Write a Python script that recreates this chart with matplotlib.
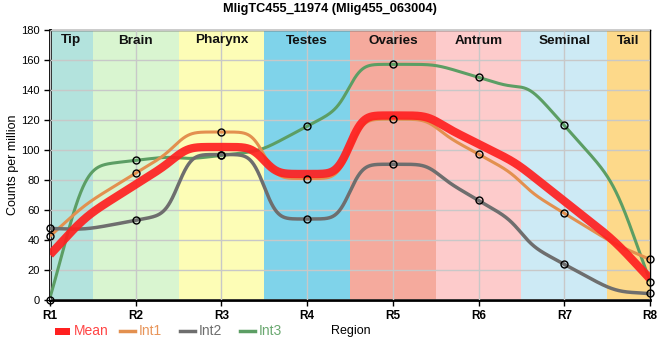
import numpy as np
import matplotlib
matplotlib.use("Agg")
import matplotlib.pyplot as plt
from matplotlib.lines import Line2D
from matplotlib.patches import Rectangle

plt.rcParams['font.family'] = ['Liberation Sans', 'DejaVu Sans']

title = "MligTC455_11974 (Mlig455_063004)"
x_labels = ["R1", "R2", "R3", "R4", "R5", "R6", "R7", "R8"]
regions = ["Tip", "Brain", "Pharynx", "Testes", "Ovaries", "Antrum", "Seminal", "Tail"]
region_bounds = [1.0, 1.5, 2.5, 3.5, 4.5, 5.5, 6.5, 7.5, 8.0]
region_colors = ["#b3e3dd", "#d9f5d0", "#fdfdb6", "#7fd3ea", "#f5aa9d", "#fdcbcb", "#cdeaf5", "#fdd98a"]

mean = [30, 77, 102, 84, 123, 104, 66, 14]
int1 = [42.4, 84.5, 112, 81, 120.5, 97.2, 57.8, 27.1]
int2 = [47.8, 53.1, 97, 54, 90.5, 66.4, 23.8, 4.4]
int3 = [0, 93.1, 96.4, 115.8, 157.1, 148.4, 116.4, 11.8]

series_names = ["Mean", "Int1", "Int2", "Int3"]
series_colors = ["#ff2020", "#e3904f", "#6e6e6e", "#5c9e64"]
text_colors = ["#ff4545", "#e8955a", "#6e6e6e", "#6aa870"]


def tangents(y):
    y = np.asarray(y, float)
    s = np.diff(y)
    t = np.zeros(len(y))
    sg = lambda v: -1.0 if v < 0 else 1.0
    for i in range(1, len(y) - 1):
        p = (s[i - 1] + s[i]) / 2
        t[i] = (sg(s[i - 1]) + sg(s[i])) * min(abs(s[i - 1]), abs(s[i]), 0.5 * abs(p))
    t[0] = 2 * s[0] - t[1]
    t[-1] = 2 * s[-1] - t[-2]
    return t


def hermite(x, x0, x1, y0, y1, m0, m1):
    h = x1 - x0
    u = (x - x0) / h
    return ((2 * u**3 - 3 * u**2 + 1) * y0 + (u**3 - 2 * u**2 + u) * h * m0
            + (-2 * u**3 + 3 * u**2) * y1 + (u**3 - u**2) * h * m1)


def region_curve(y, sigma=0.12):
    """Each region follows a local linear trend through its sample; the
    region pieces are blended across the region borders."""
    y = np.asarray(y, float)
    n = len(y)
    t = tangents(y)
    dx = 0.002
    xg = np.arange(-0.5, 9.5 + dx / 2, dx)
    idx = np.clip(np.floor(xg - 0.5).astype(int), 0, n - 1)
    L = y[idx] + t[idx] * (xg - (idx + 1))
    a = (xg >= 1) & (xg < 1.5)
    L[a] = hermite(xg[a], 1, 1.5, y[0], y[1] - 0.5 * t[1], t[0], t[1])
    b = (xg >= n - 0.5) & (xg <= n)
    L[b] = hermite(xg[b], n - 0.5, n, y[-2] + 0.5 * t[-2], y[-1], t[-2], t[-1])
    kx = np.arange(-4 * sigma, 4 * sigma + dx / 2, dx)
    ker = np.exp(-0.5 * (kx / sigma) ** 2)
    ker /= ker.sum()
    sm = np.convolve(L, ker, mode='same')
    m = (xg >= 1 - 1e-9) & (xg <= n + 1e-9)
    return xg[m], sm[m]


fig = plt.figure(figsize=(6.6, 3.6), dpi=100)
ax = fig.add_axes([50 / 660, 60 / 360, 600 / 660, 270 / 360])

xpos = np.arange(1, len(x_labels) + 1)

for i, (name, col) in enumerate(zip(regions, region_colors)):
    ax.axvspan(region_bounds[i], region_bounds[i + 1], color=col, lw=0, zorder=0)
    ax.text((region_bounds[i] + region_bounds[i + 1]) / 2, 173, name, ha='center', va='center',
            fontsize=9.7, fontweight='bold', color='#111111', zorder=5)

ax.set_xlim(1, 8)
ax.set_ylim(0, 180)
ax.set_yticks(np.arange(0, 181, 20))
ax.set_xticks(xpos)
ax.set_xticklabels(x_labels, fontweight='bold', fontsize=8.5)
ax.tick_params(axis='y', labelsize=8, length=4, width=1)
ax.tick_params(axis='x', length=4, width=1)
ax.grid(True, color='#c8c8c8', lw=1, zorder=1)
ax.set_axisbelow(False)

for sp in ['left', 'bottom']:
    ax.spines[sp].set_linewidth(2)
for sp in ['top', 'right']:
    ax.spines[sp].set_linewidth(1)

data = [mean, int1, int2, int3]
widths = [6, 2.2, 2.5, 2.2]
for k in [3, 1, 2, 0]:
    xs, ys = region_curve(data[k])
    ax.plot(xs, ys, color=series_colors[k], lw=widths[k], alpha=0.92 if k == 0 else 1,
            solid_capstyle='butt', zorder=4 if k == 0 else 3)
for k in [1, 2, 3]:
    ax.plot(xpos, data[k], ls='none', marker='o', ms=5, mfc='none', mec='black', mew=1,
            clip_on=False, zorder=6)

ax.set_ylabel("Counts per million", fontsize=9)
ax.yaxis.set_label_coords(-31 / 600, 0.5)

fig.text(0.5, 1 - 9 / 360, title, ha='center', va='center', fontsize=9.2, fontweight='bold')

ly = 1 - 331 / 360
fig.patches.append(Rectangle((55 / 660, 1 - 334.5 / 360), 15 / 660, 7 / 360, transform=fig.transFigure,
                             color=series_colors[0], lw=0))
for k, x0 in zip([1, 2, 3], [120, 180, 240]):
    fig.lines.append(Line2D([x0 / 660, (x0 + 15) / 660], [ly, ly], transform=fig.transFigure,
                            color=series_colors[k], lw=2.5))
for k, x0 in zip(range(4), [74, 139, 199, 259]):
    fig.text(x0 / 660, ly, series_names[k], color=text_colors[k], fontsize=10, ha='left', va='center')
fig.text(331 / 660, ly, "Region", ha='left', va='center', fontsize=9)

fig.savefig("out.png", dpi=100)
